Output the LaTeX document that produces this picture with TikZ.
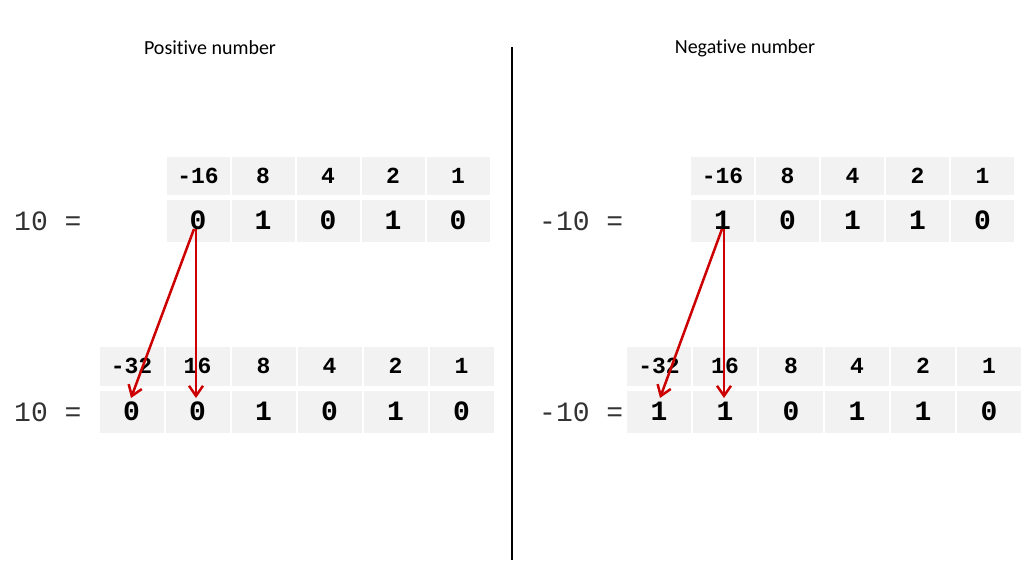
\documentclass[tikz,border=0pt]{standalone}
\usepackage{fontspec}
\setmainfont{Carlito}[Ligatures=NoCommon]
\setmonofont{Liberation Mono}
\usetikzlibrary{arrows.meta}
\definecolor{cellgray}{RGB}{242,242,242}
\definecolor{arrowred}{RGB}{204,0,0}
\definecolor{labelgray}{RGB}{50,50,50}

\begin{document}
\begin{tikzpicture}[
    x=1pt, y=-1pt,
    title/.style={
        font=\fontsize{20}{24}\selectfont
    },
    headcell/.style={
        rectangle,
        fill=cellgray,
        inner sep=0pt,
        minimum width=63pt,
        minimum height=38pt,
        text height=14pt,
        text depth=0pt,
        font=\fontsize{23}{26}\selectfont\ttfamily\bfseries
    },
    bitcell/.style={
        headcell,
        minimum height=42pt,
        text height=17.5pt,
        font=\fontsize{28}{32}\selectfont\ttfamily\bfseries
    },
    widecell/.style={
        minimum width=64pt
    },
    eqlabel/.style={
        anchor=west,
        inner sep=0pt,
        text=labelgray,
        font=\fontsize{28}{32}\selectfont\ttfamily
    },
    arrow/.style={
        -{Straight Barb[length=10pt,width=14pt]},
        line width=2.5pt,
        draw=arrowred
    }
]
    \useasboundingbox (0,0) rectangle (1028,560);

    % Titles and divider
    \node[title] (postitle) at (210,48) {Positive number};
    \node[title] (negtitle) at (745,48) {Negative number};
    \coordinate (divtop) at (512,47);
    \coordinate (divbot) at (512,560);
    \draw[line width=2.5pt] (divtop) -- (divbot);

    % Positive: 5 bits
    \node[eqlabel] (plabel) at (14,221) {10 =};
    \foreach \w [count=\i from 0] in {-16,8,4,2,1}
        \node[headcell] (ph\i) at (198+65*\i,176) {\w};
    \foreach \b [count=\i from 0] in {0,1,0,1,0}
        \node[bitcell] (pv\i) at (198+65*\i,221) {\b};

    % Positive: 6 bits
    \node[eqlabel] (qlabel) at (14,412) {10 =};
    \foreach \w [count=\i from 0] in {-32,16,8,4,2,1}
        \node[headcell, widecell, minimum height=39pt] (qh\i) at (131.5+66*\i,366.5) {\w};
    \foreach \b [count=\i from 0] in {0,0,1,0,1,0}
        \node[bitcell, widecell] (qv\i) at (131.5+66*\i,412) {\b};

    % Negative: 5 bits
    \node[eqlabel] (nlabel) at (539,221) {-10 =};
    \foreach \w [count=\i from 0] in {-16,8,4,2,1}
        \node[headcell] (nh\i) at (722.5+65*\i,176) {\w};
    \foreach \b [count=\i from 0] in {1,0,1,1,0}
        \node[bitcell] (nv\i) at (722.5+65*\i,221) {\b};

    % Negative: 6 bits
    \node[eqlabel] (mlabel) at (539,412) {-10 =};
    \foreach \w [count=\i from 0] in {-32,16,8,4,2,1}
        \node[headcell, widecell, minimum height=39pt] (mh\i) at (659+66*\i,366.5) {\w};
    \foreach \b [count=\i from 0] in {1,1,0,1,1,0}
        \node[bitcell, widecell] (mv\i) at (659+66*\i,412) {\b};

    % Sign extension arrows
    \draw[arrow] ([xshift=-4pt,yshift=-8pt]pv0.center) -- ([xshift=-0.5pt,yshift=14pt]qv0.center);
    \draw[arrow] ([xshift=-2pt,yshift=-8pt]pv0.center) -- ([xshift=-1.5pt,yshift=14pt]qv1.center);
    \draw[arrow] ([xshift=-0.5pt,yshift=-8pt]nv0.center) -- ([xshift=1pt,yshift=14pt]mv0.center);
    \draw[arrow] ([xshift=1.5pt,yshift=-8pt]nv0.center) -- ([xshift=-1pt,yshift=14pt]mv1.center);

\end{tikzpicture}
\end{document}
